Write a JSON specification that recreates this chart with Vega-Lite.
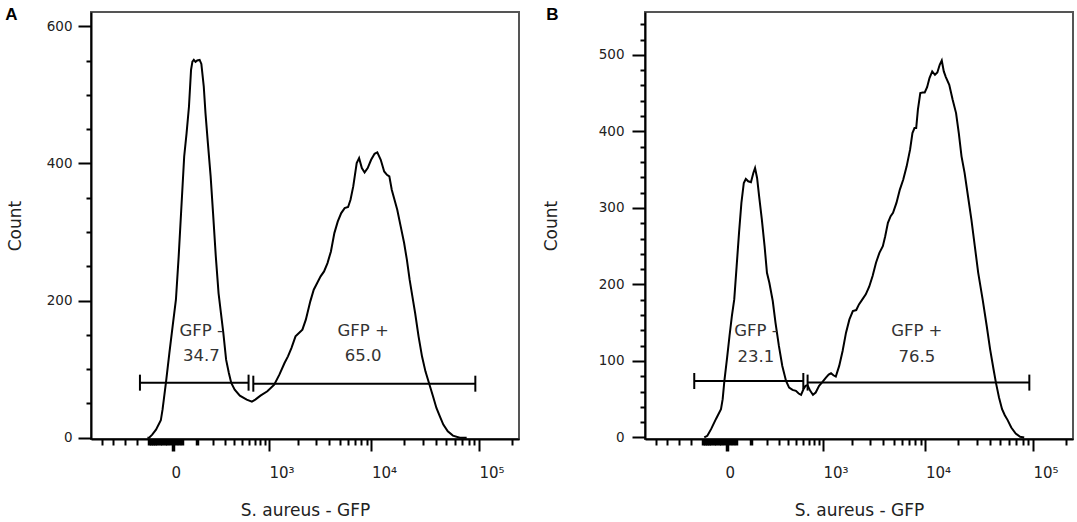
{
  "$schema": "https://vega.github.io/schema/vega-lite/v6.json",
  "background": "white",
  "padding": {"left": 4, "top": 5, "right": 0, "bottom": 0},
  "datasets": {
    "curveA": [
      {"x":-110.2,"y":0},{"x":-100.9,"y":0},{"x":-84.9,"y":4.4},{"x":-66.7,"y":11.7},{"x":-45.6,"y":25.3},{"x":-38.6,"y":40.8},{"x":-25.3,"y":80.7},{"x":-13.0,"y":123.5},{"x":-1.5,"y":164.8},{"x":8.6,"y":201.2},{"x":18.2,"y":264.4},{"x":28.3,"y":337.3},{"x":39.1,"y":410.2},{"x":49.0,"y":444.2},{"x":59.4,"y":483.1},{"x":68.8,"y":536.6},{"x":75.3,"y":548.7},{"x":82.0,"y":551.2},{"x":90.7,"y":548.2},{"x":99.6,"y":550.2},{"x":112.7,"y":551.2},{"x":122.5,"y":545.3},{"x":136.8,"y":512.3},{"x":147.5,"y":473.4},{"x":163.1,"y":429.7},{"x":182.0,"y":381.1},{"x":199.5,"y":327.6},{"x":220.5,"y":264.4},{"x":242.8,"y":210.9},{"x":263.4,"y":181.8},{"x":285.1,"y":152.6},{"x":311.3,"y":113.7},{"x":339.1,"y":94.3},{"x":364.8,"y":79.7},{"x":403.9,"y":70.0},{"x":468.1,"y":61.2},{"x":565.3,"y":55.4},{"x":648.3,"y":52.5},{"x":708.8,"y":55.4},{"x":808.5,"y":61.2},{"x":959.4,"y":67.6},{"x":1133.9,"y":77.3},{"x":1283,"y":91.9},{"x":1449,"y":108.9},{"x":1570,"y":118.6},{"x":1701,"y":130.7},{"x":1870,"y":147.8},{"x":2024,"y":152.6},{"x":2189,"y":157.5},{"x":2366,"y":172.1},{"x":2617,"y":198.8},{"x":2827,"y":215.8},{"x":3053,"y":225.5},{"x":3296,"y":235.3},{"x":3557,"y":242.5},{"x":3839,"y":254.7},{"x":4141,"y":271.7},{"x":4466,"y":298.4},{"x":4816,"y":315.4},{"x":5193,"y":327.6},{"x":5598,"y":334.9},{"x":6034,"y":336.4},{"x":6358,"y":347.0},{"x":6750,"y":366.5},{"x":7275,"y":400.5},{"x":7664,"y":407.8},{"x":8134,"y":393.2},{"x":8634,"y":386.9},{"x":9230,"y":393.2},{"x":9942,"y":405.4},{"x":10708,"y":414.1},{"x":11363,"y":416.1},{"x":12235,"y":405.4},{"x":13176,"y":388.4},{"x":13978,"y":383.5},{"x":14720,"y":381.1},{"x":15503,"y":361.6},{"x":16445,"y":347.0},{"x":17445,"y":332.5},{"x":18779,"y":308.2},{"x":20215,"y":283.9},{"x":21443,"y":259.6},{"x":22743,"y":230.4},{"x":24122,"y":206.1},{"x":25584,"y":181.8},{"x":27534,"y":147.8},{"x":29634,"y":118.6},{"x":31897,"y":96.7},{"x":34575,"y":78.7},{"x":37485,"y":60.3},{"x":40335,"y":43.3},{"x":43410,"y":31.1},{"x":46725,"y":19.0},{"x":51390,"y":9.2},{"x":57375,"y":2.9},{"x":66420,"y":0},{"x":76890,"y":0}
    ],
    "curveB": [
      {"x":-94.8,"y":0},{"x":-79.4,"y":2.2},{"x":-61.8,"y":10.9},{"x":-41.3,"y":23.9},{"x":-21.6,"y":37.0},{"x":-15.5,"y":50.0},{"x":-9.6,"y":73.9},{"x":-0.6,"y":104.3},{"x":7.2,"y":132.6},{"x":15.3,"y":158.7},{"x":23.9,"y":180.4},{"x":33.0,"y":223.9},{"x":42.5,"y":267.4},{"x":52.5,"y":306.5},{"x":63.1,"y":332.6},{"x":72.5,"y":337.8},{"x":84.1,"y":334.8},{"x":98.1,"y":333.5},{"x":111.0,"y":345.7},{"x":120.7,"y":352.2},{"x":132.7,"y":339.1},{"x":145.3,"y":315.2},{"x":162.9,"y":284.8},{"x":181.6,"y":250.0},{"x":198.8,"y":215.2},{"x":217.0,"y":202.2},{"x":244.6,"y":178.3},{"x":268.1,"y":150.0},{"x":299.6,"y":119.6},{"x":333.4,"y":93.5},{"x":373.4,"y":73.9},{"x":408.8,"y":65.2},{"x":450.9,"y":62.2},{"x":496.0,"y":60.9},{"x":534.6,"y":57.4},{"x":570.3,"y":55.7},{"x":607.7,"y":63.0},{"x":641.5,"y":67.4},{"x":676.6,"y":68.3},{"x":726,"y":60.9},{"x":778.2,"y":55.7},{"x":833.6,"y":58.7},{"x":907.5,"y":67.4},{"x":987,"y":72.6},{"x":1073,"y":78.3},{"x":1146,"y":82.2},{"x":1213,"y":83.9},{"x":1284,"y":81.3},{"x":1359,"y":79.6},{"x":1472,"y":93.5},{"x":1594,"y":113.0},{"x":1725,"y":137.0},{"x":1866,"y":154.3},{"x":2018,"y":165.2},{"x":2181,"y":166.5},{"x":2320,"y":173.9},{"x":2506,"y":180.4},{"x":2706,"y":187.0},{"x":2920,"y":197.0},{"x":3151,"y":210.9},{"x":3399,"y":228.3},{"x":3666,"y":241.3},{"x":3953,"y":250.0},{"x":4167,"y":263.0},{"x":4423,"y":280.4},{"x":4696,"y":289.1},{"x":4948,"y":293.5},{"x":5332,"y":306.5},{"x":5745,"y":323.9},{"x":6188,"y":337.0},{"x":6663,"y":354.3},{"x":7176,"y":376.1},{"x":7555,"y":397.8},{"x":7899,"y":404.3},{"x":8196,"y":404.3},{"x":8505,"y":428.3},{"x":8955,"y":450.0},{"x":9429,"y":450.9},{"x":9855,"y":450.9},{"x":10376,"y":457.8},{"x":10924,"y":469.6},{"x":11586,"y":478.3},{"x":12286,"y":473.9},{"x":12935,"y":477.0},{"x":13614,"y":487.0},{"x":14229,"y":492.6},{"x":14866,"y":478.3},{"x":15533,"y":470.9},{"x":16712,"y":460.9},{"x":17980,"y":441.3},{"x":19341,"y":423.9},{"x":20508,"y":397.8},{"x":21743,"y":367.4},{"x":23217,"y":345.7},{"x":24975,"y":315.2},{"x":26865,"y":284.8},{"x":28890,"y":250.0},{"x":31080,"y":215.2},{"x":34155,"y":180.4},{"x":37275,"y":145.7},{"x":40080,"y":115.2},{"x":43110,"y":89.1},{"x":45360,"y":71.7},{"x":48450,"y":52.2},{"x":51720,"y":37.0},{"x":54825,"y":29.1},{"x":58095,"y":23.0},{"x":62940,"y":13.0},{"x":69180,"y":5.2},{"x":76020,"y":0.9},{"x":82935,"y":0}
    ],
    "gatesA": [{"x":-155,"x2":594,"y":80.2},{"x":673,"x2":92500,"y":78.7}],
    "capsA": [{"x":-155,"y":80.2},{"x":594,"y":80.2},{"x":673,"y":78.7},{"x":92500,"y":78.7}],
    "labelsA": [{"x":122,"y":156,"t":"GFP -"},{"x":122,"y":118.5,"t":"34.7"},{"x":8350,"y":156,"t":"GFP +"},{"x":8350,"y":118.5,"t":"65.0"}],
    "gatesB": [{"x":-153,"x2":606,"y":73.8},{"x":678,"x2":92500,"y":71.7}],
    "capsB": [{"x":-153,"y":73.8},{"x":606,"y":73.8},{"x":678,"y":71.7},{"x":92500,"y":71.7}],
    "labelsB": [{"x":126,"y":139,"t":"GFP -"},{"x":126,"y":105.6,"t":"23.1"},{"x":8302,"y":139,"t":"GFP +"},{"x":8302,"y":105.6,"t":"76.5"}]
  },
  "hconcat": [
    {
      "width": 428, "height": 427,
      "title": {"text": "A", "anchor": "start", "frame": "bounds", "offset": -12, "dx": -1, "font": "Liberation Sans", "fontSize": 17, "fontWeight": "bold", "color": "#000"},
      "encoding": {
        "x": {"field": "x", "type": "quantitative",
          "scale": {"type": "symlog", "constant": 150, "domain": [-714, 234450], "nice": false, "zero": false},
          "axis": {
            "values": [-534,-388,-266,-175,-100,-90,-80,-70,-60,-50,-40,-30,-20,-10,0,10,20,30,100,200,300,400,500,600,700,800,900,1000,2000,3000,4000,5000,6000,7000,8000,9000,10000,20000,30000,40000,50000,60000,70000,80000,90000,100000,200000],
            "labelExpr": "datum.value == 0 ? '0' : datum.value == 1000 ? '10³' : datum.value == 10000 ? '10⁴' : datum.value == 100000 ? '10⁵' : ''",
            "tickSize": {"condition": {"test": "datum.value == 0 || datum.value == 1000 || datum.value == 10000 || datum.value == 100000", "value": 12}, "value": 6},
            "tickWidth": {"condition": {"test": "abs(datum.value) <= 100", "value": 3.5}, "value": 2},
            "tickColor": "#000",
            "labelAlign": {"condition": {"test": "datum.value == 0", "value": "center"}, "value": "left"},
            "labelOffset": {"condition": {"test": "datum.value == 0", "value": 2.5}, "value": 0},
            "labelPadding": 14, "labelFont": "DejaVu Sans", "labelFontSize": 15, "labelColor": "#222",
            "labelOverlap": false, "labelFlush": false, "labelBound": false,
            "domain": true, "domainColor": "#000", "domainWidth": 2, "grid": false,
            "title": "S. aureus - GFP", "titleFont": "DejaVu Sans", "titleFontSize": 17, "titleFontWeight": "normal", "titleColor": "#222", "titlePadding": 22
          }
        },
        "y": {"field": "y", "type": "quantitative",
          "scale": {"domain": [-2, 621], "nice": false, "zero": false},
          "axis": {
            "values": [0,50,100,150,200,250,300,350,400,450,500,550,600],
            "labelExpr": "datum.value % 200 == 0 ? datum.label : ''",
            "tickSize": {"condition": {"test": "datum.value % 200 == 0", "value": 13}, "value": 5},
            "tickWidth": 2, "tickColor": "#000",
            "labelPadding": 6, "labelFont": "DejaVu Sans", "labelFontSize": 13.5, "labelColor": "#222",
            "labelOverlap": false, "labelFlush": false, "labelBound": false,
            "domain": true, "domainColor": "#000", "domainWidth": 2, "grid": false,
            "title": "Count", "titleFont": "DejaVu Sans", "titleFontSize": 17, "titleFontWeight": "normal", "titleColor": "#222", "titlePadding": 22
          }
        }
      },
      "layer": [
        {"data": {"name": "curveA"}, "mark": {"type": "line", "color": "#000", "strokeWidth": 2}},
        {"data": {"name": "gatesA"}, "mark": {"type": "rule", "color": "#000", "strokeWidth": 2}, "encoding": {"x2": {"field": "x2"}}},
        {"data": {"name": "capsA"}, "mark": {"type": "tick", "orient": "vertical", "color": "#000", "size": 16, "thickness": 2, "opacity": 1}},
        {"data": {"name": "labelsA"}, "mark": {"type": "text", "font": "DejaVu Sans", "fontSize": 16.5, "color": "#333", "align": "center", "baseline": "middle"}, "encoding": {"text": {"field": "t"}}}
      ]
    },
    {
      "width": 428, "height": 427,
      "title": {"text": "B", "anchor": "start", "frame": "bounds", "offset": -12, "dx": 4, "font": "Liberation Sans", "fontSize": 17, "fontWeight": "bold", "color": "#000"},
      "encoding": {
        "x": {"field": "x", "type": "quantitative",
          "scale": {"type": "symlog", "constant": 150, "domain": [-714, 234450], "nice": false, "zero": false},
          "axis": {
            "values": [-534,-388,-266,-175,-100,-90,-80,-70,-60,-50,-40,-30,-20,-10,0,10,20,30,100,200,300,400,500,600,700,800,900,1000,2000,3000,4000,5000,6000,7000,8000,9000,10000,20000,30000,40000,50000,60000,70000,80000,90000,100000,200000],
            "labelExpr": "datum.value == 0 ? '0' : datum.value == 1000 ? '10³' : datum.value == 10000 ? '10⁴' : datum.value == 100000 ? '10⁵' : ''",
            "tickSize": {"condition": {"test": "datum.value == 0 || datum.value == 1000 || datum.value == 10000 || datum.value == 100000", "value": 12}, "value": 6},
            "tickWidth": {"condition": {"test": "abs(datum.value) <= 100", "value": 3.5}, "value": 2},
            "tickColor": "#000",
            "labelAlign": {"condition": {"test": "datum.value == 0", "value": "center"}, "value": "left"},
            "labelOffset": {"condition": {"test": "datum.value == 0", "value": 2.5}, "value": 0},
            "labelPadding": 14, "labelFont": "DejaVu Sans", "labelFontSize": 15, "labelColor": "#222",
            "labelOverlap": false, "labelFlush": false, "labelBound": false,
            "domain": true, "domainColor": "#000", "domainWidth": 2, "grid": false,
            "title": "S. aureus - GFP", "titleFont": "DejaVu Sans", "titleFontSize": 17, "titleFontWeight": "normal", "titleColor": "#222", "titlePadding": 22
          }
        },
        "y": {"field": "y", "type": "quantitative",
          "scale": {"domain": [-2, 556], "nice": false, "zero": false},
          "axis": {
            "values": [0,20,40,60,80,100,120,140,160,180,200,220,240,260,280,300,320,340,360,380,400,420,440,460,480,500,520,540],
            "labelExpr": "datum.value % 100 == 0 ? datum.label : ''",
            "tickSize": {"condition": {"test": "datum.value % 100 == 0", "value": 13}, "value": 5},
            "tickWidth": 2, "tickColor": "#000",
            "labelPadding": 8, "labelFont": "DejaVu Sans", "labelFontSize": 13.5, "labelColor": "#222",
            "labelOverlap": false, "labelFlush": false, "labelBound": false,
            "domain": true, "domainColor": "#000", "domainWidth": 2, "grid": false,
            "title": "Count", "titleFont": "DejaVu Sans", "titleFontSize": 17, "titleFontWeight": "normal", "titleColor": "#222", "titlePadding": 38
          }
        }
      },
      "layer": [
        {"data": {"name": "curveB"}, "mark": {"type": "line", "color": "#000", "strokeWidth": 2}},
        {"data": {"name": "gatesB"}, "mark": {"type": "rule", "color": "#000", "strokeWidth": 2}, "encoding": {"x2": {"field": "x2"}}},
        {"data": {"name": "capsB"}, "mark": {"type": "tick", "orient": "vertical", "color": "#000", "size": 16, "thickness": 2, "opacity": 1}},
        {"data": {"name": "labelsB"}, "mark": {"type": "text", "font": "DejaVu Sans", "fontSize": 16.5, "color": "#333", "align": "center", "baseline": "middle"}, "encoding": {"text": {"field": "t"}}}
      ]
    }
  ],
  "spacing": 21,
  "config": {"view": {"stroke": "#555", "strokeWidth": 2}}
}
